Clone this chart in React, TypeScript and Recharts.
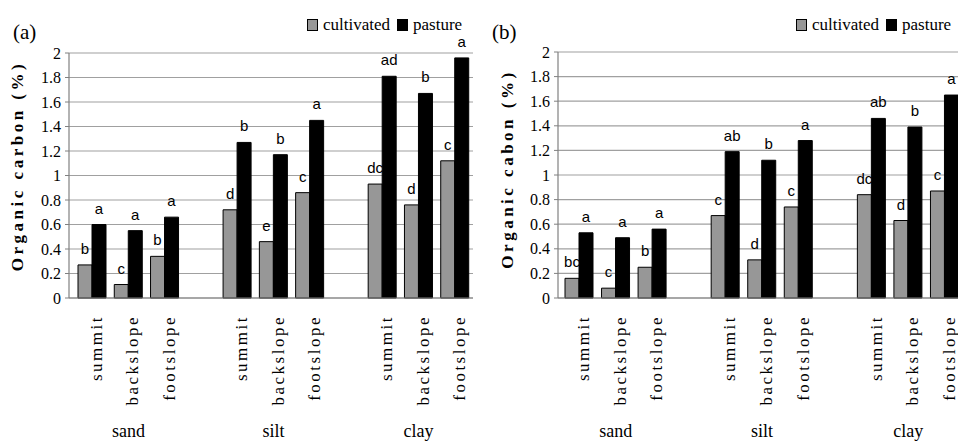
import React from "react"
import { BarChart, Bar, XAxis, YAxis, CartesianGrid, LabelList } from "recharts"

const soils = ["sand", "silt", "clay"]
const positions = ["summit", "backslope", "footslope"]
const yTicks = [0, 0.2, 0.4, 0.6, 0.8, 1, 1.2, 1.4, 1.6, 1.8, 2]

// panel (a)
const cultivatedA = [0.27, 0.11, 0.34, 0.72, 0.46, 0.86, 0.93, 0.76, 1.12]
const pastureA = [0.6, 0.55, 0.66, 1.27, 1.17, 1.45, 1.81, 1.67, 1.96]
const cultivatedLettersA = ["b", "c", "b", "d", "e", "c", "dc", "d", "c"]
const pastureLettersA = ["a", "a", "a", "b", "b", "a", "ad", "b", "a"]

// panel (b)
const cultivatedB = [0.16, 0.08, 0.25, 0.67, 0.31, 0.74, 0.84, 0.63, 0.87]
const pastureB = [0.53, 0.49, 0.56, 1.19, 1.12, 1.28, 1.46, 1.39, 1.65]
const cultivatedLettersB = ["bc", "c", "b", "c", "d", "c", "dc", "d", "c"]
const pastureLettersB = ["a", "a", "a", "ab", "b", "a", "ab", "b", "a"]

const SERIF = "Liberation Serif, Times New Roman, serif"
const SANS = "Liberation Sans, Arial, sans-serif"
const GRAY = "#979797"

type Row = {
  key: string
  soil: string
  position: string
  cultivated: number | null
  pasture: number | null
  cLetter: string
  pLetter: string
}

const buildRows = (cult: number[], past: number[], cl: string[], pl: string[]) => {
  const rows: Row[] = []
  soils.forEach((soil, s) => {
    if (s > 0) {
      rows.push({ key: `gap-${s}`, soil: "", position: "", cultivated: null, pasture: null, cLetter: "", pLetter: "" })
    }
    positions.forEach((pos, p) => {
      const i = s * 3 + p
      rows.push({
        key: `${soil}-${pos}`,
        soil,
        position: pos,
        cultivated: cult[i],
        pasture: past[i],
        cLetter: cl[i],
        pLetter: pl[i],
      })
    })
  })
  return rows
}

const rowsA = buildRows(cultivatedA, pastureA, cultivatedLettersA, pastureLettersA)
const rowsB = buildRows(cultivatedB, pastureB, cultivatedLettersB, pastureLettersB)

const makeTick = (rows: Row[]) => (props: any) => {
  const { x, y, payload } = props
  const row = rows.find((r) => r.key === payload.value)
  if (!row || !row.position) return <g />
  const bx = x + 10
  const by = y + 17
  return (
    <g>
      <text
        x={bx}
        y={by}
        transform={`rotate(-90, ${bx}, ${by})`}
        textAnchor="end"
        style={{ fontFamily: SERIF, fontSize: 17, letterSpacing: 2.5 }}
        fill="#000"
      >
        {row.position}
      </text>
      {row.position === "backslope" && (
        <text x={x} y={y + 139} textAnchor="middle" style={{ fontFamily: SERIF, fontSize: 18 }} fill="#000">
          {row.soil}
        </text>
      )}
    </g>
  )
}

const LetterLabel = (props: any) => {
  const { x, y, width, value } = props
  if (!value) return null
  return (
    <text x={x + width / 2} y={y - 11} textAnchor="middle" style={{ fontFamily: SANS, fontSize: 15 }} fill="#000">
      {value}
    </text>
  )
}

const LegendBox = ({ left }: { left: number }) => (
  <div
    style={{
      position: "absolute",
      left,
      top: 14,
      height: 22,
      display: "flex",
      alignItems: "center",
      fontFamily: SERIF,
      fontSize: 17,
      whiteSpace: "nowrap",
    }}
  >
    <span style={{ width: 9, height: 10, background: GRAY, border: "1px solid #000", marginRight: 5 }} />
    <span style={{ marginRight: 7 }}>cultivated</span>
    <span style={{ width: 9, height: 10, background: "#000", border: "1px solid #000", marginRight: 5 }} />
    <span>pasture</span>
  </div>
)

type PanelProps = {
  rows: Row[]
  width: number
  axisWidth: number
  top: number
  padLeft: number
  yLabel: string
  labelX: number
  labelY: number
  rightBorder: boolean
}

function Panel({ rows, width, axisWidth, top, padLeft, yLabel, labelX, labelY, rightBorder }: PanelProps) {
  return (
    <BarChart
      width={width}
      height={443}
      data={rows}
      margin={{ top, right: rightBorder ? 7 : 0, left: 0, bottom: 0 }}
      barSize={14}
      barGap={0}
    >
      <CartesianGrid vertical={false} stroke="#a0a0a0" strokeWidth={1.2} />
      <XAxis
        dataKey="key"
        interval={0}
        height={145}
        tickLine={false}
        tickSize={0}
        tickMargin={0}
        padding={{ left: padLeft, right: 0 }}
        axisLine={{ stroke: "#808080", strokeWidth: 1.2 }}
        tick={makeTick(rows)}
      />
      <YAxis
        width={axisWidth}
        domain={[0, 2]}
        ticks={yTicks}
        interval={0}
        tickSize={4}
        tickMargin={4}
        axisLine={{ stroke: "#808080", strokeWidth: 1.2 }}
        tickLine={{ stroke: "#808080" }}
        tick={{ fontFamily: SERIF, fontSize: 16, fill: "#000" }}
        tickFormatter={(v: number) => String(Number(v.toFixed(1)))}
        label={{
          content: () => (
            <text
              x={labelX}
              y={labelY}
              transform={`rotate(-90, ${labelX}, ${labelY})`}
              textAnchor="middle"
              style={{ fontFamily: SERIF, fontWeight: "bold", fontSize: 17, letterSpacing: 3.5 }}
              fill="#000"
            >
              {yLabel}
            </text>
          ),
        }}
      />
      {rightBorder && (
        <YAxis
          yAxisId="border"
          orientation="right"
          width={0}
          tick={false}
          tickLine={false}
          axisLine={{ stroke: "#808080", strokeWidth: 1.2 }}
        />
      )}
      <Bar dataKey="cultivated" fill={GRAY} stroke="#000" strokeWidth={1} isAnimationActive={false}>
        <LabelList dataKey="cLetter" content={LetterLabel} />
      </Bar>
      <Bar dataKey="pasture" fill="#000" stroke="#000" strokeWidth={1} isAnimationActive={false}>
        <LabelList dataKey="pLetter" content={LetterLabel} />
      </Bar>
    </BarChart>
  )
}

export default function App() {
  return (
    <div style={{ position: "absolute", left: 0, top: 0, width: 958, height: 443, background: "#fff", overflow: "hidden" }}>
      <div style={{ position: "absolute", left: 0, top: 0, width: 480, height: 443 }}>
        <Panel
          rows={rowsA}
          width={480}
          axisWidth={69}
          top={53}
          padLeft={5}
          yLabel="Organic carbon (%)"
          labelX={23}
          labelY={166}
          rightBorder
        />
      </div>
      <div style={{ position: "absolute", left: 478, top: 0, width: 480, height: 443, overflow: "hidden" }}>
        <Panel
          rows={rowsB}
          width={485}
          axisWidth={80}
          top={52}
          padLeft={3}
          yLabel="Organic cabon (%)"
          labelX={35}
          labelY={169}
          rightBorder={false}
        />
      </div>
      <div style={{ position: "absolute", left: 13, top: 22, fontFamily: SERIF, fontSize: 21, lineHeight: "21px" }}>(a)</div>
      <div style={{ position: "absolute", left: 492, top: 22, fontFamily: SERIF, fontSize: 21, lineHeight: "21px" }}>(b)</div>
      <LegendBox left={307} />
      <LegendBox left={796} />
    </div>
  )
}
